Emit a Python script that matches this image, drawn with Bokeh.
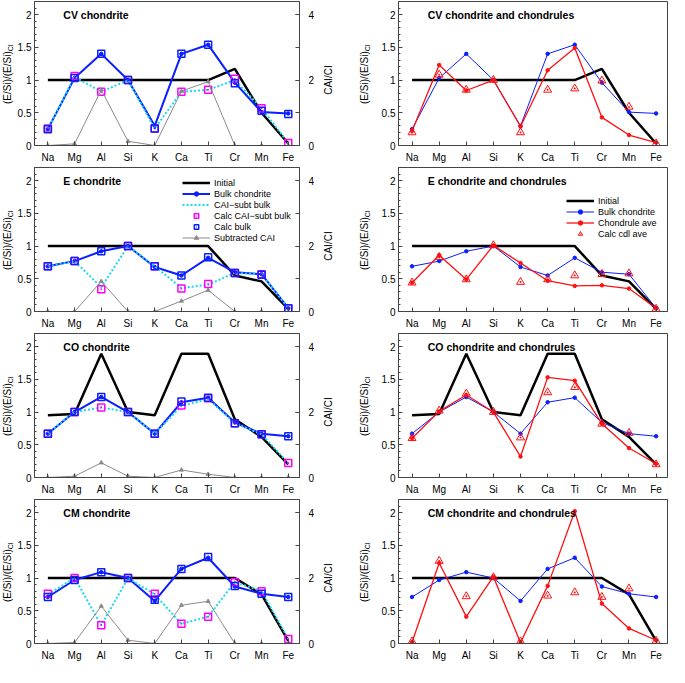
from math import pi
from bokeh.plotting import figure
from bokeh.models import (Range1d, LinearAxis, FixedTicker, SingleIntervalTicker,
                          NumeralTickFormatter, Label, Legend, LegendItem)
from bokeh.layouts import gridplot
from bokeh.embed import file_html
from bokeh.resources import INLINE

# ---------------- data ----------------
elements = ["Na", "Mg", "Al", "Si", "K", "Ca", "Ti", "Cr", "Mn", "Fe"]

cv_initial = [1, 1, 1, 1, 1, 1, 1, 1.17, 0.50, 0.03]
cv_bulk = [0.25, 1.03, 1.40, 1.00, 0.30, 1.40, 1.54, 0.96, 0.51, 0.49]
cv_calc_bulk = [0.25, 1.03, 1.40, 1.00, 0.26, 1.40, 1.54, 0.95, 0.53, 0.48]
cv_cai_subt = [0.25, 1.05, 0.82, 1.00, 0.26, 0.82, 0.85, 1.00, 0.57, 0.04]
cv_calc_cai_subt = [0.26, 1.06, 0.82, 1.00, 0.26, 0.82, 0.85, 1.02, 0.57, 0.04]
cv_cai = [0, 0.05, 1.70, 0.13, 0, 1.66, 1.95, 0, 0, 0]
cv_chondrule = [0.22, 1.23, 0.84, 1.00, 0.29, 1.15, 1.49, 0.43, 0.16, 0.045]
cv_calc_cdl = [0.20, 1.08, 0.85, 1.00, 0.20, 0.85, 0.87, 0.99, 0.59, 0.03]

e_initial = [1, 1, 1, 1, 1, 1, 1, 0.55, 0.46, 0.04]
e_bulk = [0.69, 0.77, 0.92, 1.00, 0.68, 0.55, 0.82, 0.60, 0.57, 0.05]
e_calc_bulk = [0.69, 0.77, 0.92, 1.00, 0.69, 0.55, 0.83, 0.59, 0.56, 0.05]
e_cai_subt = [0.69, 0.77, 0.37, 1.00, 0.69, 0.36, 0.41, 0.59, 0.57, 0.05]
e_calc_cai_subt = [0.69, 0.77, 0.34, 1.00, 0.69, 0.35, 0.42, 0.59, 0.57, 0.05]
e_cai = [0, 0, 0.92, 0, 0, 0.32, 0.65, 0, 0, 0]
e_chondrule = [0.44, 0.86, 0.49, 1.01, 0.74, 0.47, 0.39, 0.40, 0.35, 0.05]
e_calc_cdl = [0.44, 0.83, 0.49, 1.01, 0.45, 0.49, 0.55, 0.57, 0.58, 0.04]

co_initial = [0.95, 0.97, 1.89, 1.00, 0.95, 1.89, 1.89, 0.89, 0.62, 0.20]
co_bulk = [0.67, 1.00, 1.23, 1.00, 0.67, 1.15, 1.22, 0.84, 0.67, 0.63]
co_calc_bulk = [0.67, 1.00, 1.23, 1.00, 0.67, 1.16, 1.22, 0.83, 0.66, 0.63]
co_cai_subt = [0.67, 1.00, 1.07, 1.00, 0.67, 1.09, 1.20, 0.83, 0.66, 0.22]
co_calc_cai_subt = [0.67, 1.00, 1.07, 1.00, 0.67, 1.10, 1.21, 0.83, 0.66, 0.22]
co_cai = [0, 0.04, 0.45, 0.04, 0, 0.23, 0.10, 0, 0, 0]
co_chondrule = [0.60, 1.01, 1.26, 1.00, 0.32, 1.53, 1.48, 0.82, 0.45, 0.21]
co_calc_cdl = [0.60, 1.02, 1.28, 1.00, 0.61, 1.30, 1.38, 0.82, 0.68, 0.20]

cm_initial = [1, 1, 1, 1, 1, 1, 1, 1.00, 0.75, 0.04]
cm_bulk = [0.71, 0.97, 1.09, 1.00, 0.65, 1.14, 1.31, 0.87, 0.76, 0.71]
cm_calc_bulk = [0.71, 0.97, 1.09, 1.00, 0.67, 1.14, 1.32, 0.88, 0.76, 0.71]
cm_cai_subt = [0.75, 1.00, 0.28, 1.00, 0.75, 0.30, 0.41, 0.94, 0.80, 0.07]
cm_calc_cai_subt = [0.76, 1.00, 0.28, 1.00, 0.76, 0.30, 0.41, 0.94, 0.80, 0.07]
cm_cai = [0, 0.03, 1.14, 0.10, 0, 1.17, 1.29, 0, 0, 0]
cm_chondrule = [0.02, 1.23, 0.41, 1.02, 0.01, 0.88, 2.02, 0.61, 0.23, 0.05]
cm_calc_cdl = [0.03, 1.26, 0.72, 1.01, 0.03, 0.73, 0.78, 0.71, 0.84, 0.04]

x_idx = list(range(len(elements)))

# ---------------- style ----------------
FONT = "Liberation Sans"
BLUE = "#0a1eff"
RED = "#ff1010"
CYAN = "#19d9ee"
MAGENTA = "#ff00ff"
GRAY = "#8a8a8a"
EDGE = "#444444"
X_START, X_END = -0.5, 9.42
Y_END = 2.2
CAI_END = 4.4
FIG_H = 166
BORDER_TOP, BORDER_BOTTOM = 1, 21
LBL_A_W, LEFT_W, LBL_B_W, RIGHT_W = 14, 303, 61, 291


def label_fig(width, ylabel_x, cai_x=None):
    f = figure(width=width, height=FIG_H, min_border_left=0, min_border_right=0,
               min_border_top=BORDER_TOP, min_border_bottom=BORDER_BOTTOM,
               x_range=Range1d(0, width), y_range=Range1d(0, Y_END),
               x_axis_type=None, y_axis_type=None,
               output_backend="svg", toolbar_location=None)
    f.outline_line_color = None
    f.grid.visible = False
    f.add_layout(Label(x=ylabel_x, y=1.44, text="(E/Si)/(E/Si)", angle=pi / 2,
                       text_align="right", text_baseline="middle",
                       text_font=FONT, text_font_size="10px", text_color="black"))
    f.add_layout(Label(x=ylabel_x + 3, y=1.44, text="CI", angle=pi / 2,
                       text_align="left", text_baseline="middle",
                       text_font=FONT, text_font_size="7px", text_color="black"))
    if cai_x is not None:
        f.add_layout(Label(x=cai_x, y=1.0, text="CAI/CI", angle=pi / 2,
                           text_align="center", text_baseline="middle",
                           text_font=FONT, text_font_size="10px", text_color="black"))
    return f


def base_fig(left_col, title):
    if left_col:
        p = figure(width=LEFT_W, height=FIG_H, min_border_left=16, min_border_right=16,
                   min_border_top=BORDER_TOP, min_border_bottom=BORDER_BOTTOM,
                   x_range=Range1d(X_START, X_END), y_range=Range1d(0, Y_END),
                   output_backend="svg", toolbar_location=None)
    else:
        p = figure(width=RIGHT_W, height=FIG_H, min_border_left=16, min_border_right=2,
                   min_border_top=BORDER_TOP, min_border_bottom=BORDER_BOTTOM,
                   x_range=Range1d(X_START, X_END), y_range=Range1d(0, Y_END),
                   output_backend="svg", toolbar_location=None)
    p.xgrid.visible = False
    p.ygrid.visible = False
    p.outline_line_color = EDGE
    p.background_fill_color = "white"
    p.border_fill_color = "white"

    xa = p.xaxis[0]
    xa.ticker = FixedTicker(ticks=x_idx)
    xa.major_label_overrides = {i: e for i, e in enumerate(elements)}
    xa.major_tick_in = 4
    xa.major_tick_out = 0
    xa.major_label_standoff = 6
    ya = p.yaxis[0]
    ya.ticker = SingleIntervalTicker(interval=0.5, num_minor_ticks=5)
    ya.formatter = NumeralTickFormatter(format="0.[0]")
    ya.major_tick_in = 4
    ya.major_tick_out = 0
    ya.minor_tick_in = 2
    ya.minor_tick_out = 0
    ya.major_label_standoff = 3
    for ax in (xa, ya):
        ax.axis_line_color = EDGE
        ax.major_tick_line_color = EDGE
        ax.major_label_text_font = FONT
        ax.major_label_text_font_size = "10px"
        ax.major_label_text_color = "black"
    xa.minor_tick_line_color = None
    ya.minor_tick_line_color = EDGE

    if left_col:
        p.extra_y_ranges = {"cai": Range1d(0, CAI_END)}
        ca = LinearAxis(y_range_name="cai",
                        ticker=SingleIntervalTicker(interval=2, num_minor_ticks=2),
                        major_tick_in=4, major_tick_out=0, minor_tick_in=4, minor_tick_out=0,
                        major_label_standoff=9, axis_line_color=EDGE,
                        major_tick_line_color=EDGE, minor_tick_line_color=EDGE,
                        major_label_text_font=FONT, major_label_text_font_size="10px",
                        major_label_text_color="black")
        p.add_layout(ca, "right")

    # panel title
    p.add_layout(Label(x=0.58, y=2.0, text=title, text_align="left", text_baseline="middle",
                       text_font=FONT, text_font_size="10.5px", text_font_style="bold",
                       text_color="black"))
    return p


def style_legend(lg, loc):
    lg.location = loc
    lg.background_fill_alpha = 0
    lg.border_line_color = None
    lg.label_text_font = FONT
    lg.label_text_font_size = "9px"
    lg.label_text_color = "black"
    lg.label_height = 9
    lg.glyph_height = 11
    lg.glyph_width = 28
    lg.spacing = 0
    lg.padding = 2
    lg.margin = 0
    lg.label_standoff = 4


def left_panel(title, init, bulk, calc_bulk, cai_subt, calc_cai_subt, cai, legend=False):
    p = base_fig(True, title)
    r_init = p.line(x_idx, init, line_color="black", line_width=2.5)
    r_bl = p.line(x_idx, bulk, line_color=BLUE, line_width=2)
    r_bm = p.scatter(x_idx, bulk, marker="circle", size=3.5, color=BLUE)
    r_cy = p.line(x_idx, cai_subt, line_color=CYAN, line_width=2, line_dash="2 2")
    r_mg = p.scatter(x_idx, calc_cai_subt, marker="square_dot", size=7, line_color=MAGENTA,
                     fill_color=None, line_width=1.5)
    r_cb = p.scatter(x_idx, calc_bulk, marker="square_dot", size=7, line_color=BLUE,
                     fill_color=None, line_width=1.5)
    r_gl = p.line(x_idx, cai, line_color=GRAY, line_width=1, y_range_name="cai")
    r_gm = p.scatter(x_idx, cai, marker="triangle", size=4, color=GRAY, y_range_name="cai")
    if legend:
        lg = Legend(items=[
            LegendItem(label="Initial", renderers=[r_init]),
            LegendItem(label="Bulk chondrite", renderers=[r_bl, r_bm]),
            LegendItem(label="CAI\u2212subt bulk", renderers=[r_cy]),
            LegendItem(label="Calc CAI\u2212subt bulk", renderers=[r_mg]),
            LegendItem(label="Calc bulk", renderers=[r_cb]),
            LegendItem(label="Subtracted CAI", renderers=[r_gl, r_gm]),
        ])
        style_legend(lg, (148, 68))
        p.add_layout(lg)
    return p


def right_panel(title, init, bulk, chondrule, calc_cdl, legend=False):
    p = base_fig(False, title)
    r_init = p.line(x_idx, init, line_color="black", line_width=2.5)
    r_bl = p.line(x_idx, bulk, line_color=BLUE, line_width=1)
    r_bm = p.scatter(x_idx, bulk, marker="circle", size=3.5, color=BLUE)
    r_rl = p.line(x_idx, chondrule, line_color=RED, line_width=1.3)
    r_rm = p.scatter(x_idx, chondrule, marker="circle", size=3.5, color=RED)
    r_tr = p.scatter(x_idx, calc_cdl, marker="triangle_dot", size=8, line_color=RED,
                     fill_color=None, line_width=1)
    if legend:
        lg = Legend(items=[
            LegendItem(label="Initial", renderers=[r_init]),
            LegendItem(label="Bulk chondrite", renderers=[r_bl, r_bm]),
            LegendItem(label="Chondrule ave", renderers=[r_rl, r_rm]),
            LegendItem(label="Calc cdl ave", renderers=[r_tr]),
        ])
        style_legend(lg, (168, 72))
        p.add_layout(lg)
    return p


rows = []
panels = [
    ("CV", cv_initial, cv_bulk, cv_calc_bulk, cv_cai_subt, cv_calc_cai_subt, cv_cai,
     cv_chondrule, cv_calc_cdl, False),
    ("E", e_initial, e_bulk, e_calc_bulk, e_cai_subt, e_calc_cai_subt, e_cai,
     e_chondrule, e_calc_cdl, True),
    ("CO", co_initial, co_bulk, co_calc_bulk, co_cai_subt, co_calc_cai_subt, co_cai,
     co_chondrule, co_calc_cdl, False),
    ("CM", cm_initial, cm_bulk, cm_calc_bulk, cm_cai_subt, cm_calc_cai_subt, cm_cai,
     cm_chondrule, cm_calc_cdl, False),
]
for name, init, bulk, cbulk, csub, ccsub, cai, chond, ccdl, leg in panels:
    la = label_fig(LBL_A_W, 7)
    pl = left_panel(f"{name} chondrite", init, bulk, cbulk, csub, ccsub, cai, legend=leg)
    lb = label_fig(LBL_B_W, 47, cai_x=11)
    pr = right_panel(f"{name} chondrite and chondrules", init, bulk, chond, ccdl, legend=leg)
    rows.append([la, pl, lb, pr])

grid = gridplot(rows, toolbar_location=None)

open("out.html", "w").write(file_html(grid, INLINE))
